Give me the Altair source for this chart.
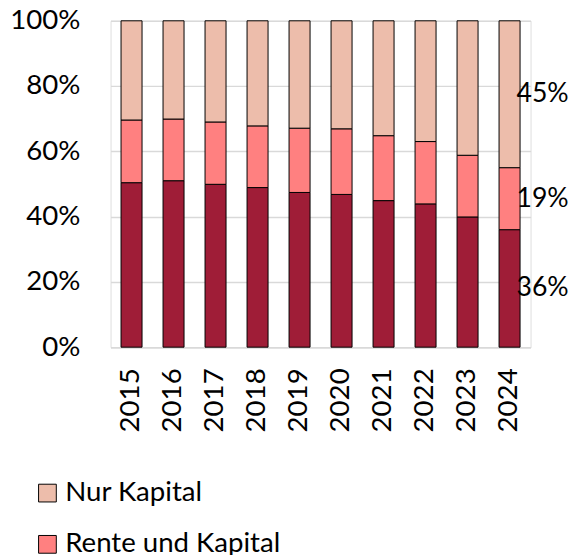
import altair as alt
import pandas as pd

years = ["2015", "2016", "2017", "2018", "2019", "2020", "2021", "2022", "2023", "2024"]
nur_rente = [50.4, 51.0, 49.9, 48.9, 47.4, 46.8, 44.9, 43.9, 39.9, 36.0]
rente_und_kapital = [19.2, 18.9, 19.1, 18.9, 19.7, 20.1, 19.9, 19.1, 18.9, 19.0]
nur_kapital = [30.4, 30.1, 31.0, 32.2, 32.9, 33.1, 35.2, 37.0, 41.2, 45.0]

series_names = ["Nur Kapital", "Rente und Kapital", "Nur Rente"]
series_colors = ["#EDBDAB", "#FF8080", "#9F1D37"]
stack_order = {"Nur Rente": 0, "Rente und Kapital": 1, "Nur Kapital": 2}

rows = []
for name, vals in [("Nur Rente", nur_rente), ("Rente und Kapital", rente_und_kapital), ("Nur Kapital", nur_kapital)]:
    for y, v in zip(years, vals):
        rows.append({"year": y, "series": name, "value": v, "ord": stack_order[name]})
df = pd.DataFrame(rows)

FONT = "Lato"
FS = 28

x_scale = alt.Scale(paddingInner=0.5, paddingOuter=0.25, round=False)

x_enc = alt.X("year:N", sort=years, title=None, scale=x_scale,
              axis=alt.Axis(labelAngle=270, labelPadding=21, ticks=False,
                            domain=True, domainColor="#d9d9d9", domainWidth=1.5,
                            labelFont=FONT, labelFontSize=FS, labelColor="black"))

base = alt.Chart(df)

bars = base.mark_bar(stroke="black", strokeWidth=1).encode(
    x=x_enc,
    y=alt.Y("value:Q", stack="normalize", title=None,
            scale=alt.Scale(domain=[0, 1]),
            axis=alt.Axis(format=".0%", values=[0, 0.2, 0.4, 0.6, 0.8, 1.0],
                          grid=True, gridColor="#d9d9d9", gridWidth=1.5,
                          domain=False, ticks=False, labelPadding=31,
                          labelFont=FONT, labelFontSize=FS, labelColor="black")),
    color=alt.Color("series:N", sort=series_names,
                    scale=alt.Scale(domain=series_names, range=series_colors),
                    legend=alt.Legend(title=None, orient="none", legendX=-78, legendY=465,
                                      direction="vertical", symbolType="square",
                                      symbolSize=324, symbolStrokeColor="black",
                                      symbolStrokeWidth=1, labelFont=FONT,
                                      labelFontSize=FS, labelColor="black",
                                      labelOffset=4, rowPadding=24, padding=0,
                                      labelLimit=400)),
    order=alt.Order("ord:Q", sort="ascending"),
)

labels = base.transform_stack(
    stack="value", groupby=["year"], sort=[alt.SortField("ord", order="ascending")],
    as_=["y0", "y1"], offset="normalize"
).transform_calculate(
    mid="(datum.y0 + datum.y1) / 2",
    lab="format(datum.value, '.0f') + '%'"
).transform_filter(
    alt.datum.year == "2024"
).mark_text(align="left", baseline="middle", dx=7, font=FONT, fontSize=27, color="black").encode(
    x=alt.X("year:N", sort=years, scale=x_scale),
    y=alt.Y("mid:Q"),
    text="lab:N",
)

chart = alt.layer(bars, labels).properties(
    width=426, height=331,
    autosize=alt.AutoSizeParams(type="none"),
    padding={"left": 104, "top": 9, "right": 40, "bottom": 220},
).configure_view(stroke=None).configure(background="white")

chart.save("out.html", embed_options={"renderer": "svg", "actions": False})
